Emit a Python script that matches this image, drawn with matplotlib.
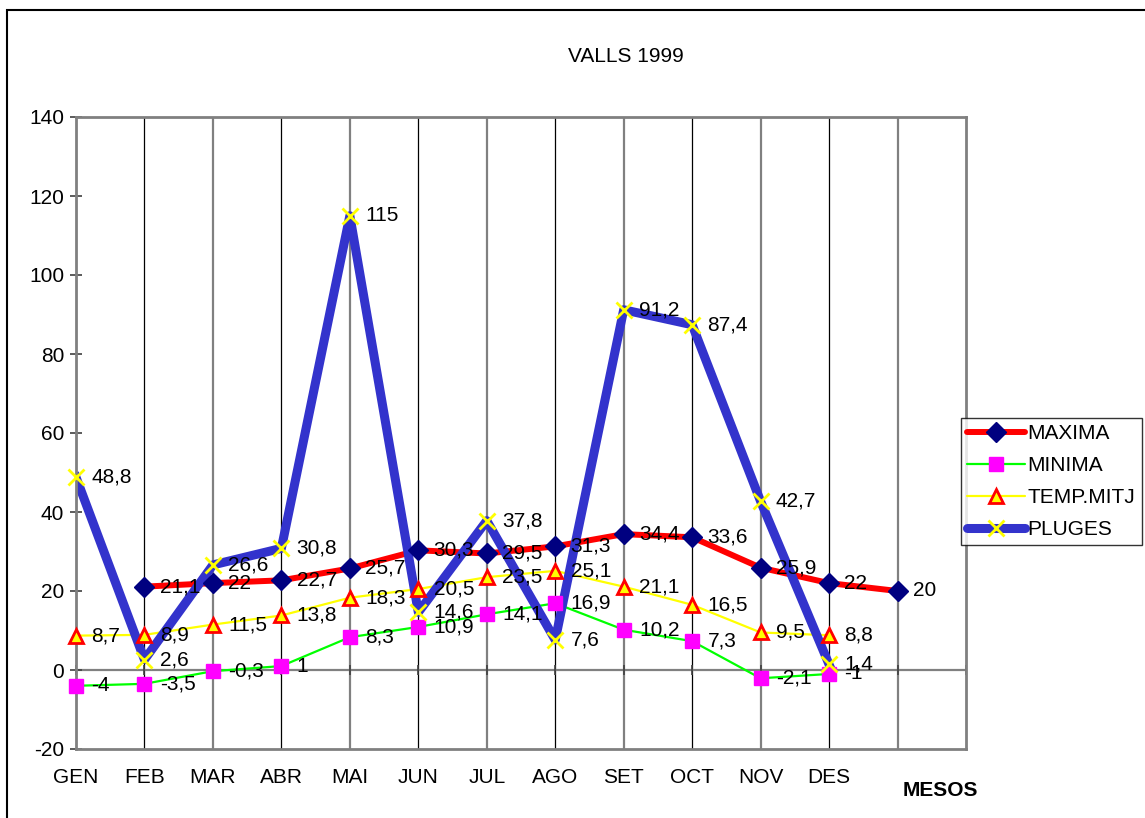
import matplotlib
matplotlib.use("Agg")
import matplotlib.pyplot as plt
from matplotlib.lines import Line2D
from matplotlib.patches import Rectangle

plt.rcParams['font.family'] = ['Liberation Sans', 'DejaVu Sans']

months = ["GEN", "FEB", "MAR", "ABR", "MAI", "JUN", "JUL", "AGO", "SET", "OCT", "NOV", "DES"]
maxima = [21.1, 22, 22.7, 25.7, 30.3, 29.5, 31.3, 34.4, 33.6, 25.9, 22, 20]   # plotted one slot later
minima = [-4, -3.5, -0.3, 1, 8.3, 10.9, 14.1, 16.9, 10.2, 7.3, -2.1, -1]
temp_mitj = [8.7, 8.9, 11.5, 13.8, 18.3, 20.5, 23.5, 25.1, 21.1, 16.5, 9.5, 8.8]
pluges = [48.8, 2.6, 26.6, 30.8, 115, 14.6, 37.8, 7.6, 91.2, 87.4, 42.7, 1.4]
yticks = [-20, 0, 20, 40, 60, 80, 100, 120, 140]

GRAY = "#808080"
FS = 15
W, H = 1145, 818
fig = plt.figure(figsize=(W / 100, H / 100), dpi=100)
ax = fig.add_axes([76 / W, 1 - 749 / H, (966 - 76) / W, (749 - 117) / H])

n_slots = len(months) + 1
ax.set_xlim(0, n_slots)
ax.set_ylim(yticks[0], yticks[-1])

# vertical grid lines: alternate thin black / gray
for i in range(1, n_slots):
    if i % 2 == 1:
        ax.axvline(i, color="black", lw=0.9, zorder=1)
    else:
        ax.axvline(i, color=GRAY, lw=1.6, zorder=1)

# zero line with tick marks
ax.axhline(0, color=GRAY, lw=1.6, zorder=1)
ax.plot(range(n_slots + 1), [0] * (n_slots + 1), ls="none", marker="|",
        ms=7, mew=1.2, color="#404040", zorder=1, clip_on=False)

series = [
    ("MAXIMA", list(range(1, len(maxima) + 1)), maxima,
     dict(color="#FF0000", lw=4.3), dict(marker="D", ms=10.5, mfc="#000080", mec="#000080")),
    ("MINIMA", list(range(len(minima))), minima,
     dict(color="#00FF00", lw=1.6), dict(marker="s", ms=10.5, mfc="#FF00FF", mec="#FF00FF")),
    ("TEMP.MITJ", list(range(len(temp_mitj))), temp_mitj,
     dict(color="#FFFF00", lw=1.6), dict(marker="^", ms=10.5, mfc="#FFFF00", mec="#FF0000", mew=2)),
    ("PLUGES", list(range(len(pluges))), pluges,
     dict(color="#3333CC", lw=6.5), dict(marker="x", ms=11, mec="#FFFF00", mew=2)),
]

def fmt(v):
    return ("%g" % v).replace(".", ",")

for name, xs, ys, lstyle, mstyle in series:
    ax.plot(xs, ys, zorder=2, solid_joinstyle="round", **lstyle)
handles = []
for name, xs, ys, lstyle, mstyle in series:
    ax.plot(xs, ys, ls="none", zorder=3, clip_on=False, **mstyle)
    handles.append(Line2D([], [], label=name, solid_capstyle="round", **lstyle, **mstyle))
for name, xs, ys, lstyle, mstyle in series:
    for x, y in zip(xs, ys):
        ax.annotate(fmt(y), (x, y), xytext=(11, 0), textcoords="offset points",
                    ha="left", va="center", fontsize=FS, zorder=5)

for side in ["left", "right", "top", "bottom"]:
    ax.spines[side].set_color(GRAY)
    ax.spines[side].set_linewidth(2)

ax.set_yticks(yticks)
ax.set_yticklabels([str(t) for t in yticks], fontsize=FS)
ax.tick_params(axis="y", direction="inout", length=9, width=1.2, color="#404040", pad=4)
ax.set_xticks(range(len(months)))
ax.set_xticklabels(months, fontsize=FS)
ax.tick_params(axis="x", length=0, pad=14)

fig.text(626 / W, 1 - 56 / H, "VALLS 1999", ha="center", va="center", fontsize=FS)
fig.text(940 / W, 1 - 790 / H, "MESOS", ha="center", va="center", fontsize=FS, fontweight="bold")

leg = fig.legend(handles=handles, loc="upper left", bbox_to_anchor=(961 / W, 1 - 418 / H),
                 fontsize=FS, frameon=True, fancybox=False, borderpad=0.3,
                 labelspacing=0.62, handlelength=2.75, handletextpad=0.15, borderaxespad=0)
leg.get_frame().set_edgecolor("black")
leg.get_frame().set_linewidth(1.0)

fig.add_artist(Rectangle((7 / W, -0.2), 1.2, 1 - 10 / H + 0.2, transform=fig.transFigure,
                         fill=False, ec="black", lw=1.5))

fig.savefig("out.png", dpi=100)
